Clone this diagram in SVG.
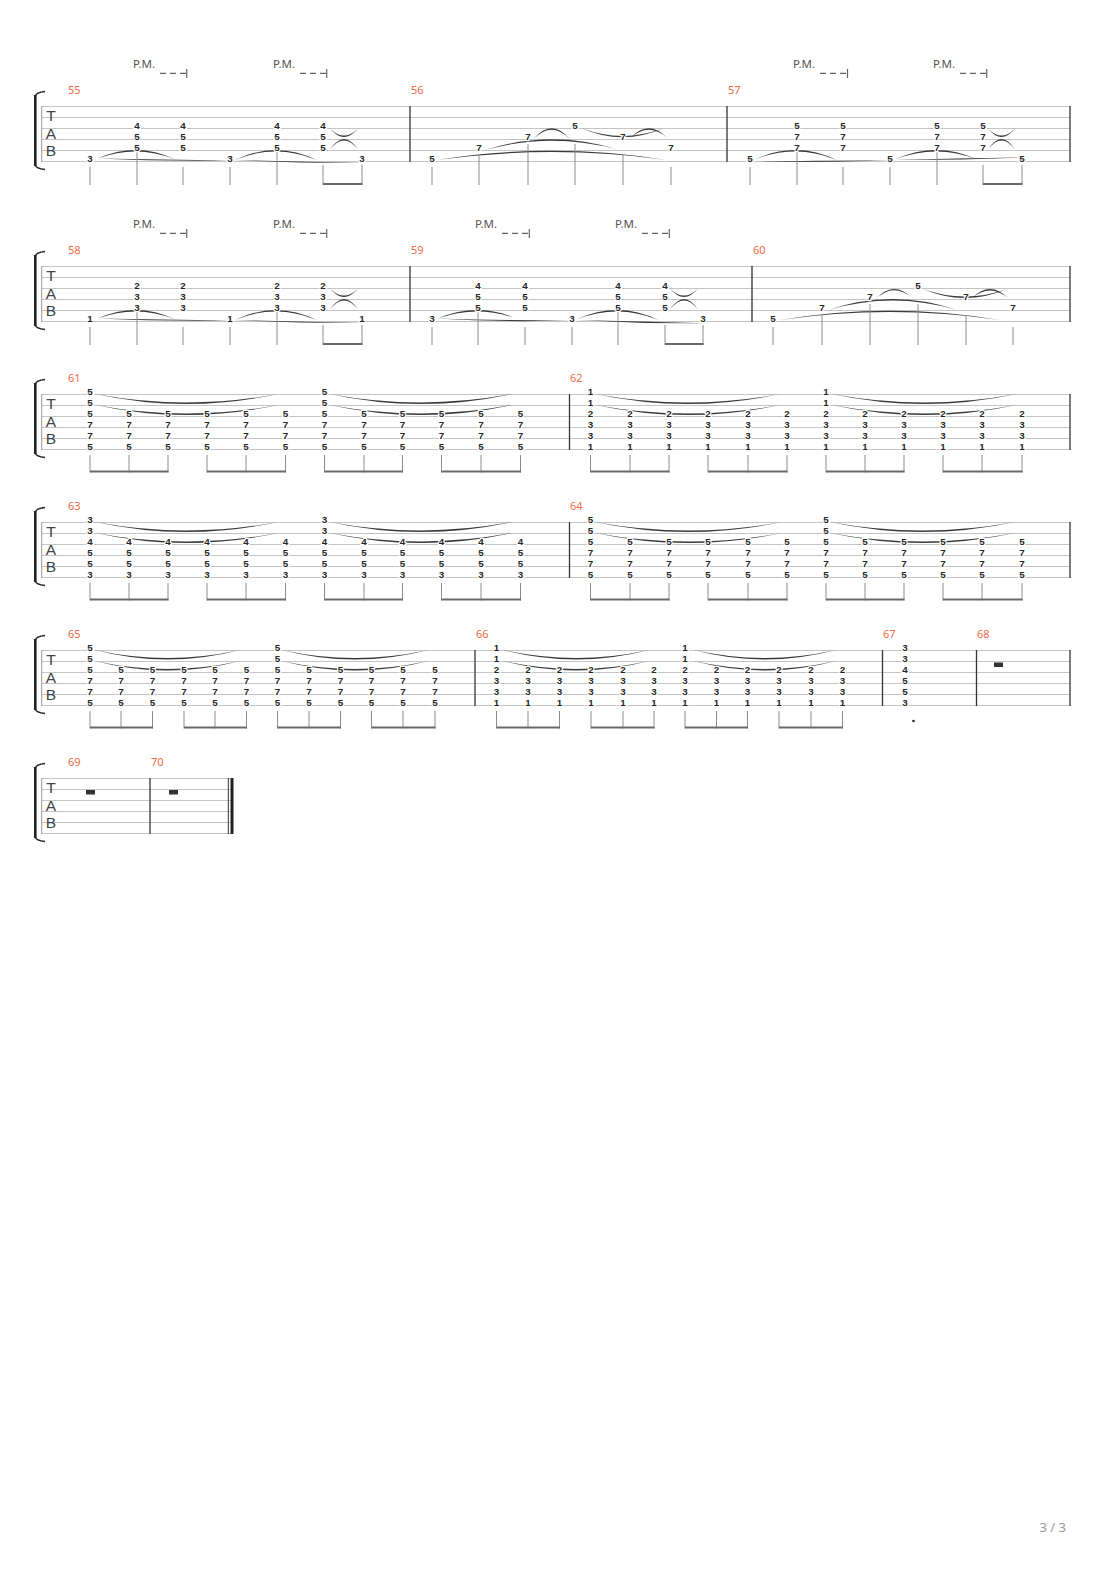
<svg xmlns="http://www.w3.org/2000/svg" width="1110" height="1570" viewBox="0 0 1110 1570">
<style>
.sl{stroke:#c4c4c4;stroke-width:1;fill:none}
.lf{stroke:#9a9a9a;stroke-width:1}
.bl{stroke:#333;stroke-width:1.3}
.d{font-family:"Liberation Sans",Arial,sans-serif;font-size:9.8px;font-weight:bold;fill:#262626;text-anchor:middle;stroke:#fff;stroke-width:2.5;stroke-linejoin:round;paint-order:stroke}
.mn{font-family:"Noto Sans",sans-serif;font-size:11px;fill:#f26a3f}
.pm{font-family:"Noto Sans",sans-serif;font-size:11.5px;fill:#555}
.pd{stroke:#666;stroke-width:1.2;stroke-dasharray:6 4;fill:none}
.pt{stroke:#666;stroke-width:1.2}
.st{stroke:#8c8c8c;stroke-width:1}
.bm{fill:#6a6a6a}
.tie{fill:#3a3a3a}
.tb{font-family:"Liberation Sans",Arial,sans-serif;font-size:15.5px;fill:#444;text-anchor:middle}
.br{fill:#222}
.hk{stroke:#222;stroke-width:1.3;fill:none}
.rest{fill:#333}
.ft{font-family:"Noto Sans",sans-serif;font-size:13px;fill:#999;text-anchor:end}
</style>

<g id="staves">
<g id="staff1">
<path class="sl" d="M41.7 106.5H1070M41.7 117.5H1070M41.7 128.5H1070M41.7 139.5H1070M41.7 150.5H1070M41.7 161.5H1070"/>
<line class="lf" x1="41.7" y1="106" x2="41.7" y2="162"/>
<rect class="br" x="34" y="95" width="2.6" height="71"/>
<path class="hk" d="M35.3 96Q36 92.5 45 91.5M35.3 165Q36 168.5 45 169.5"/>
<text class="tb" x="51" y="121.3">T</text><text class="tb" x="51" y="138.8">A</text><text class="tb" x="51" y="156.2">B</text>
<line class="bl" x1="410" y1="106" x2="410" y2="162"/><line class="bl" x1="727" y1="106" x2="727" y2="162"/><line class="bl" x1="1070" y1="106" x2="1070" y2="162"/>
<text class="mn" x="68" y="94.3">55</text><text class="mn" x="411" y="94.3">56</text><text class="mn" x="728" y="94.3">57</text>
</g>
<g id="staff2">
<path class="sl" d="M41.7 266.5H1070M41.7 277.5H1070M41.7 288.5H1070M41.7 299.5H1070M41.7 310.5H1070M41.7 321.5H1070"/>
<line class="lf" x1="41.7" y1="266" x2="41.7" y2="322"/>
<rect class="br" x="34" y="255" width="2.6" height="71"/>
<path class="hk" d="M35.3 256Q36 252.5 45 251.5M35.3 325Q36 328.5 45 329.5"/>
<text class="tb" x="51" y="281.3">T</text><text class="tb" x="51" y="298.8">A</text><text class="tb" x="51" y="316.2">B</text>
<line class="bl" x1="410" y1="266" x2="410" y2="322"/><line class="bl" x1="752" y1="266" x2="752" y2="322"/><line class="bl" x1="1070" y1="266" x2="1070" y2="322"/>
<text class="mn" x="68" y="254.3">58</text><text class="mn" x="411" y="254.3">59</text><text class="mn" x="753" y="254.3">60</text>
</g>
<g id="staff3">
<path class="sl" d="M41.7 394.5H1070M41.7 405.5H1070M41.7 416.5H1070M41.7 427.5H1070M41.7 438.5H1070M41.7 449.5H1070"/>
<line class="lf" x1="41.7" y1="394" x2="41.7" y2="450"/>
<rect class="br" x="34" y="383" width="2.6" height="71"/>
<path class="hk" d="M35.3 384Q36 380.5 45 379.5M35.3 453Q36 456.5 45 457.5"/>
<text class="tb" x="51" y="409.3">T</text><text class="tb" x="51" y="426.8">A</text><text class="tb" x="51" y="444.2">B</text>
<line class="bl" x1="569.5" y1="394" x2="569.5" y2="450"/><line class="bl" x1="1070" y1="394" x2="1070" y2="450"/>
<text class="mn" x="68" y="382.3">61</text><text class="mn" x="570" y="382.3">62</text>
</g>
<g id="staff4">
<path class="sl" d="M41.7 522.5H1070M41.7 533.5H1070M41.7 544.5H1070M41.7 555.5H1070M41.7 566.5H1070M41.7 577.5H1070"/>
<line class="lf" x1="41.7" y1="522" x2="41.7" y2="578"/>
<rect class="br" x="34" y="511" width="2.6" height="71"/>
<path class="hk" d="M35.3 512Q36 508.5 45 507.5M35.3 581Q36 584.5 45 585.5"/>
<text class="tb" x="51" y="537.3">T</text><text class="tb" x="51" y="554.8">A</text><text class="tb" x="51" y="572.2">B</text>
<line class="bl" x1="569.5" y1="522" x2="569.5" y2="578"/><line class="bl" x1="1070" y1="522" x2="1070" y2="578"/>
<text class="mn" x="68" y="510.3">63</text><text class="mn" x="570" y="510.3">64</text>
</g>
<g id="staff5">
<path class="sl" d="M41.7 650.5H1070M41.7 661.5H1070M41.7 672.5H1070M41.7 683.5H1070M41.7 694.5H1070M41.7 705.5H1070"/>
<line class="lf" x1="41.7" y1="650" x2="41.7" y2="706"/>
<rect class="br" x="34" y="639" width="2.6" height="71"/>
<path class="hk" d="M35.3 640Q36 636.5 45 635.5M35.3 709Q36 712.5 45 713.5"/>
<text class="tb" x="51" y="665.3">T</text><text class="tb" x="51" y="682.8">A</text><text class="tb" x="51" y="700.2">B</text>
<line class="bl" x1="475" y1="650" x2="475" y2="706"/><line class="bl" x1="882.5" y1="650" x2="882.5" y2="706"/><line class="bl" x1="976.5" y1="650" x2="976.5" y2="706"/><line class="bl" x1="1070" y1="650" x2="1070" y2="706"/>
<text class="mn" x="68" y="638.3">65</text><text class="mn" x="476" y="638.3">66</text><text class="mn" x="883" y="638.3">67</text><text class="mn" x="977" y="638.3">68</text>
</g>
<g id="staff6">
<path class="sl" d="M41.7 778.5H232M41.7 789.5H232M41.7 800.5H232M41.7 811.5H232M41.7 822.5H232M41.7 833.5H232"/>
<line class="lf" x1="41.7" y1="778" x2="41.7" y2="834"/>
<rect class="br" x="34" y="767" width="2.6" height="71"/>
<path class="hk" d="M35.3 768Q36 764.5 45 763.5M35.3 837Q36 840.5 45 841.5"/>
<text class="tb" x="51" y="793.3">T</text><text class="tb" x="51" y="810.8">A</text><text class="tb" x="51" y="828.2">B</text>
<line class="bl" x1="150" y1="778" x2="150" y2="834"/><line x1="228.3" y1="778" x2="228.3" y2="834" stroke="#333" stroke-width="1"/><rect x="230.5" y="778" width="3" height="56" fill="#222"/>
<text class="mn" x="68" y="766.3">69</text><text class="mn" x="151" y="766.3">70</text>
</g>
</g>

<g id="palm-mutes">
<text class="pm" x="133" y="68.3">P.M.</text><path class="pd" d="M160 73.3H186"/><path class="pt" d="M186.7 69V78"/>
<text class="pm" x="273" y="68.3">P.M.</text><path class="pd" d="M300 73.3H326"/><path class="pt" d="M326.7 69V78"/>
<text class="pm" x="793" y="68.3">P.M.</text><path class="pd" d="M820 73.3H846"/><path class="pt" d="M847.5 69V78"/>
<text class="pm" x="933" y="68.3">P.M.</text><path class="pd" d="M960 73.3H986"/><path class="pt" d="M986.7 69V78"/>
<text class="pm" x="133" y="228.3">P.M.</text><path class="pd" d="M160 233.3H186"/><path class="pt" d="M186.7 229V238"/>
<text class="pm" x="273" y="228.3">P.M.</text><path class="pd" d="M300 233.3H326"/><path class="pt" d="M326.7 229V238"/>
<text class="pm" x="475" y="228.3">P.M.</text><path class="pd" d="M502 233.3H528"/><path class="pt" d="M529.3 229V238"/>
<text class="pm" x="615" y="228.3">P.M.</text><path class="pd" d="M642 233.3H668"/><path class="pt" d="M669.3 229V238"/>
</g>

<g id="connectors">
<g id="ties">
<path class="tie" d="M98.3 158.3Q136.7 141.2 175 159.3Q136.7 144 98.3 158.3Z"/>
<path class="tie" d="M97 158.5Q163.5 161.5 230 160.5Q163.5 159.3 97 158.5Z"/>
<path class="tie" d="M233 160Q298 163.5 363 163Q298 161.3 233 160Z"/>
<path class="tie" d="M235 160Q276 140 316.7 160Q276 142.8 235 160Z"/>
<path class="tie" d="M330 128.5Q344 145.5 358 128.5Q344 142.7 330 128.5Z"/>
<path class="tie" d="M330 149.5Q344 128.5 358 149.5Q344 131.3 330 149.5Z"/>
<path class="tie" d="M436.7 160Q551.7 141.4 666.7 160Q551.7 144.2 436.7 160Z"/>
<path class="tie" d="M485 150Q551 129 616.7 149.3Q551 131.8 485 150Z"/>
<path class="tie" d="M533.3 139.3Q551.7 117.3 570 139.3Q551.7 120.1 533.3 139.3Z"/>
<path class="tie" d="M581.7 128.3Q622.5 146.3 663.3 128.3Q622.5 143.5 581.7 128.3Z"/>
<path class="tie" d="M630 138.3Q648 118.8 666.7 137.3Q648 121.6 630 138.3Z"/>
<path class="tie" d="M755 159.3Q796.7 140.4 836.7 160Q796.7 143.2 755 159.3Z"/>
<path class="tie" d="M753 162Q821 162.4 890 160.5Q821 160.2 753 162Z"/>
<path class="tie" d="M895 160Q958 160.3 1021.7 157.5Q958 158.1 895 160Z"/>
<path class="tie" d="M895 159.3Q936.7 140.7 976.7 159.3Q936.7 143.5 895 159.3Z"/>
<path class="tie" d="M988 128.5Q1001.5 145.5 1015 128.5Q1001.5 142.7 988 128.5Z"/>
<path class="tie" d="M988 149.5Q1001.5 128.5 1015 149.5Q1001.5 131.3 988 149.5Z"/>
<path class="tie" d="M98.3 318.3Q136.7 301.2 175 319.3Q136.7 304 98.3 318.3Z"/>
<path class="tie" d="M97 318.5Q163.5 321.5 230 320.5Q163.5 319.3 97 318.5Z"/>
<path class="tie" d="M233 320Q298 323.5 363 323Q298 321.3 233 320Z"/>
<path class="tie" d="M235 320Q276 300 316.7 320Q276 302.8 235 320Z"/>
<path class="tie" d="M330 288.5Q344 305.5 358 288.5Q344 302.7 330 288.5Z"/>
<path class="tie" d="M330 309.5Q344 288.5 358 309.5Q344 291.3 330 309.5Z"/>
<path class="tie" d="M438.3 318.3Q478.3 301.2 518.3 319.3Q478.3 304 438.3 318.3Z"/>
<path class="tie" d="M436.7 318.5Q504 322.6 571.7 320.3Q504 320.4 436.7 318.5Z"/>
<path class="tie" d="M575 320Q640 323.75 705 323.3Q640 321.5 575 320Z"/>
<path class="tie" d="M576.7 319.3Q618.3 300.4 658.3 320Q618.3 303.2 576.7 319.3Z"/>
<path class="tie" d="M670 288.5Q684 305.5 698 288.5Q684 302.7 670 288.5Z"/>
<path class="tie" d="M670 309.5Q684 288.5 698 309.5Q684 291.3 670 309.5Z"/>
<path class="tie" d="M780 320Q890 301.4 1000 320Q890 304.2 780 320Z"/>
<path class="tie" d="M828 310Q893 288 957 310Q893 290.8 828 310Z"/>
<path class="tie" d="M875 300Q893 279 912 298Q893 281.8 875 300Z"/>
<path class="tie" d="M923 289Q965 307 1007 289Q965 304.2 923 289Z"/>
<path class="tie" d="M972 298Q990 280 1008 298Q990 282.8 972 298Z"/>
<path class="tie" d="M95.4 394Q186.7 414 278 394Q186.7 411 95.4 394ZM95.4 405Q186.7 425 278 405Q186.7 422 95.4 405Z"/>
<path class="tie" d="M329.6 394Q420.8 414 512 394Q420.8 411 329.6 394ZM329.6 405Q420.8 425 512 405Q420.8 422 329.6 405Z"/>
<path class="tie" d="M595.6 394Q687.8 414 780 394Q687.8 411 595.6 394ZM595.6 405Q687.8 425 780 405Q687.8 422 595.6 405Z"/>
<path class="tie" d="M832 394Q924.2 414 1016.5 394Q924.2 411 832 394ZM832 405Q924.2 425 1016.5 405Q924.2 422 832 405Z"/>
<path class="tie" d="M95.4 522Q186.7 542 278 522Q186.7 539 95.4 522ZM95.4 533Q186.7 553 278 533Q186.7 550 95.4 533Z"/>
<path class="tie" d="M329.6 522Q420.8 542 512 522Q420.8 539 329.6 522ZM329.6 533Q420.8 553 512 533Q420.8 550 329.6 533Z"/>
<path class="tie" d="M595 522Q688.3 542 781.7 522Q688.3 539 595 522ZM595 533Q688.3 553 781.7 533Q688.3 550 595 533Z"/>
<path class="tie" d="M830 522Q922.5 542 1015 522Q922.5 539 830 522ZM830 533Q922.5 553 1015 533Q922.5 550 830 533Z"/>
<path class="tie" d="M95 650Q167.5 669 240 650Q167.5 666 95 650ZM95 661Q167.5 680 240 661Q167.5 677 95 661Z"/>
<path class="tie" d="M281.7 650Q355 669 428.3 650Q355 666 281.7 650ZM281.7 661Q355 680 428.3 661Q355 677 281.7 661Z"/>
<path class="tie" d="M503 650Q576 669 649 650Q576 666 503 650ZM503 661Q576 680 649 661Q576 677 503 661Z"/>
<path class="tie" d="M693.7 650Q764.7 669 835.8 650Q764.7 666 693.7 650ZM693.7 661Q764.7 680 835.8 661Q764.7 677 693.7 661Z"/>
</g>
<g id="stems">
<path class="st" d="M90 167V185M137 152V185M183 167V185M230 167V185M277 152V185M323 165V185M362 165V185"/>
<path class="st" d="M432 167V185M479 155V185M528 144V185M575 144V185M623 155V185M671 167V185"/>
<path class="st" d="M750 167V185M797 152V185M843 167V185M890 167V185M937 152V185M983 165V185M1022 165V185"/>
<path class="st" d="M90 327V345M137 312V345M183 327V345M230 327V345M277 312V345M323 325V345M362 325V345"/>
<path class="st" d="M432 327V345M478 312V345M525 327V345M572 327V345M618 312V345M665 325V345M703 325V345"/>
<path class="st" d="M773 327V345M822 315V345M870 304V345M918 304V345M966 315V345M1013 327V345"/>
<rect class="bm" x="323" y="183" width="39.5" height="2"/>
<rect class="bm" x="983" y="183" width="39.5" height="2"/>
<rect class="bm" x="323" y="343" width="39.5" height="2"/>
<rect class="bm" x="665" y="343" width="38.5" height="2"/>
<path class="st" d="M90 455V472.5M129 455V472.5M168 455V472.5M207 455V472.5M246 455V472.5M285.5 455V472.5M324.5 455V472.5M364 455V472.5M402.5 455V472.5M441.5 455V472.5M481 455V472.5M520.5 455V472.5"/>
<path class="st" d="M590.5 455V472.5M630 455V472.5M669 455V472.5M708 455V472.5M748 455V472.5M787 455V472.5M826 455V472.5M865 455V472.5M904 455V472.5M943 455V472.5M982 455V472.5M1022 455V472.5"/>
<rect class="bm" x="90" y="470.5" width="78.5" height="2"/><rect class="bm" x="207" y="470.5" width="79" height="2"/><rect class="bm" x="324.5" y="470.5" width="78.5" height="2"/><rect class="bm" x="441.5" y="470.5" width="79.5" height="2"/>
<rect class="bm" x="590.5" y="470.5" width="79" height="2"/><rect class="bm" x="708" y="470.5" width="79.5" height="2"/><rect class="bm" x="826" y="470.5" width="78.5" height="2"/><rect class="bm" x="943" y="470.5" width="79.5" height="2"/>
<path class="st" d="M90 583V600.5M129 583V600.5M168 583V600.5M207 583V600.5M246 583V600.5M285.5 583V600.5M324.5 583V600.5M364 583V600.5M402.5 583V600.5M441.5 583V600.5M481 583V600.5M520.5 583V600.5"/>
<path class="st" d="M590.5 583V600.5M630 583V600.5M669 583V600.5M708 583V600.5M748 583V600.5M787 583V600.5M826 583V600.5M865 583V600.5M904 583V600.5M943 583V600.5M982 583V600.5M1022 583V600.5"/>
<rect class="bm" x="90" y="598.5" width="78.5" height="2"/><rect class="bm" x="207" y="598.5" width="79" height="2"/><rect class="bm" x="324.5" y="598.5" width="78.5" height="2"/><rect class="bm" x="441.5" y="598.5" width="79.5" height="2"/>
<rect class="bm" x="590.5" y="598.5" width="79" height="2"/><rect class="bm" x="708" y="598.5" width="79.5" height="2"/><rect class="bm" x="826" y="598.5" width="78.5" height="2"/><rect class="bm" x="943" y="598.5" width="79.5" height="2"/>
<path class="st" d="M90 711V728.5M121 711V728.5M152.5 711V728.5M184 711V728.5M215 711V728.5M246.5 711V728.5M277.5 711V728.5M309 711V728.5M340.5 711V728.5M371.5 711V728.5M403 711V728.5M435 711V728.5"/>
<path class="st" d="M496.5 711V728.5M528 711V728.5M559.5 711V728.5M591 711V728.5M623 711V728.5M654 711V728.5M685 711V728.5M716.5 711V728.5M747.5 711V728.5M779 711V728.5M811 711V728.5M842.5 711V728.5"/>
<rect class="bm" x="90" y="726.5" width="63" height="2"/><rect class="bm" x="184" y="726.5" width="63" height="2"/><rect class="bm" x="277.5" y="726.5" width="63.5" height="2"/><rect class="bm" x="371.5" y="726.5" width="64" height="2"/>
<rect class="bm" x="496.5" y="726.5" width="63.5" height="2"/><rect class="bm" x="591" y="726.5" width="63.5" height="2"/><rect class="bm" x="685" y="726.5" width="63" height="2"/><rect class="bm" x="779" y="726.5" width="64" height="2"/>
</g>
</g>

<g id="m55" class="d" transform="translate(0,-0.7)">
<text x="90" y="162.7">3</text>
<text><tspan x="137" y="129.7">4</tspan><tspan x="137" y="140.7">5</tspan><tspan x="137" y="151.7">5</tspan></text>
<text><tspan x="183" y="129.7">4</tspan><tspan x="183" y="140.7">5</tspan><tspan x="183" y="151.7">5</tspan></text>
<text x="230" y="162.7">3</text>
<text><tspan x="277" y="129.7">4</tspan><tspan x="277" y="140.7">5</tspan><tspan x="277" y="151.7">5</tspan></text>
<text><tspan x="323" y="129.7">4</tspan><tspan x="323" y="140.7">5</tspan><tspan x="323" y="151.7">5</tspan></text>
<text x="362" y="162.7">3</text>
</g>
<g id="m56" class="d" transform="translate(0,-0.7)">
<text x="432" y="162.7">5</text><text x="479" y="151.7">7</text><text x="528" y="140.7">7</text><text x="575" y="129.7">5</text><text x="623" y="140.7">7</text><text x="671" y="151.7">7</text>
</g>
<g id="m57" class="d" transform="translate(0,-0.7)">
<text x="750" y="162.7">5</text>
<text><tspan x="797" y="129.7">5</tspan><tspan x="797" y="140.7">7</tspan><tspan x="797" y="151.7">7</tspan></text>
<text><tspan x="843" y="129.7">5</tspan><tspan x="843" y="140.7">7</tspan><tspan x="843" y="151.7">7</tspan></text>
<text x="890" y="162.7">5</text>
<text><tspan x="937" y="129.7">5</tspan><tspan x="937" y="140.7">7</tspan><tspan x="937" y="151.7">7</tspan></text>
<text><tspan x="983" y="129.7">5</tspan><tspan x="983" y="140.7">7</tspan><tspan x="983" y="151.7">7</tspan></text>
<text x="1022" y="162.7">5</text>
</g>
<g id="m58" class="d" transform="translate(0,-0.7)">
<text x="90" y="322.7">1</text>
<text><tspan x="137" y="289.7">2</tspan><tspan x="137" y="300.7">3</tspan><tspan x="137" y="311.7">3</tspan></text>
<text><tspan x="183" y="289.7">2</tspan><tspan x="183" y="300.7">3</tspan><tspan x="183" y="311.7">3</tspan></text>
<text x="230" y="322.7">1</text>
<text><tspan x="277" y="289.7">2</tspan><tspan x="277" y="300.7">3</tspan><tspan x="277" y="311.7">3</tspan></text>
<text><tspan x="323" y="289.7">2</tspan><tspan x="323" y="300.7">3</tspan><tspan x="323" y="311.7">3</tspan></text>
<text x="362" y="322.7">1</text>
</g>
<g id="m59" class="d" transform="translate(0,-0.7)">
<text x="432" y="322.7">3</text>
<text><tspan x="478" y="289.7">4</tspan><tspan x="478" y="300.7">5</tspan><tspan x="478" y="311.7">5</tspan></text>
<text><tspan x="525" y="289.7">4</tspan><tspan x="525" y="300.7">5</tspan><tspan x="525" y="311.7">5</tspan></text>
<text x="572" y="322.7">3</text>
<text><tspan x="618" y="289.7">4</tspan><tspan x="618" y="300.7">5</tspan><tspan x="618" y="311.7">5</tspan></text>
<text><tspan x="665" y="289.7">4</tspan><tspan x="665" y="300.7">5</tspan><tspan x="665" y="311.7">5</tspan></text>
<text x="703" y="322.7">3</text>
</g>
<g id="m60" class="d" transform="translate(0,-0.7)">
<text x="773" y="322.7">5</text><text x="822" y="311.7">7</text><text x="870" y="300.7">7</text><text x="918" y="289.7">5</text><text x="966" y="300.7">7</text><text x="1013" y="311.7">7</text>
</g>
<g id="m61" class="d" transform="translate(0,-0.7)">
<text><tspan x="90" y="395.7">5</tspan><tspan x="90" y="406.7">5</tspan><tspan x="90" y="417.7">5</tspan><tspan x="90" y="428.7">7</tspan><tspan x="90" y="439.7">7</tspan><tspan x="90" y="450.7">5</tspan></text>
<text><tspan x="129" y="417.7">5</tspan><tspan x="129" y="428.7">7</tspan><tspan x="129" y="439.7">7</tspan><tspan x="129" y="450.7">5</tspan></text>
<text><tspan x="168" y="417.7">5</tspan><tspan x="168" y="428.7">7</tspan><tspan x="168" y="439.7">7</tspan><tspan x="168" y="450.7">5</tspan></text>
<text><tspan x="207" y="417.7">5</tspan><tspan x="207" y="428.7">7</tspan><tspan x="207" y="439.7">7</tspan><tspan x="207" y="450.7">5</tspan></text>
<text><tspan x="246" y="417.7">5</tspan><tspan x="246" y="428.7">7</tspan><tspan x="246" y="439.7">7</tspan><tspan x="246" y="450.7">5</tspan></text>
<text><tspan x="285.5" y="417.7">5</tspan><tspan x="285.5" y="428.7">7</tspan><tspan x="285.5" y="439.7">7</tspan><tspan x="285.5" y="450.7">5</tspan></text>
<text><tspan x="324.5" y="395.7">5</tspan><tspan x="324.5" y="406.7">5</tspan><tspan x="324.5" y="417.7">5</tspan><tspan x="324.5" y="428.7">7</tspan><tspan x="324.5" y="439.7">7</tspan><tspan x="324.5" y="450.7">5</tspan></text>
<text><tspan x="364" y="417.7">5</tspan><tspan x="364" y="428.7">7</tspan><tspan x="364" y="439.7">7</tspan><tspan x="364" y="450.7">5</tspan></text>
<text><tspan x="402.5" y="417.7">5</tspan><tspan x="402.5" y="428.7">7</tspan><tspan x="402.5" y="439.7">7</tspan><tspan x="402.5" y="450.7">5</tspan></text>
<text><tspan x="441.5" y="417.7">5</tspan><tspan x="441.5" y="428.7">7</tspan><tspan x="441.5" y="439.7">7</tspan><tspan x="441.5" y="450.7">5</tspan></text>
<text><tspan x="481" y="417.7">5</tspan><tspan x="481" y="428.7">7</tspan><tspan x="481" y="439.7">7</tspan><tspan x="481" y="450.7">5</tspan></text>
<text><tspan x="520.5" y="417.7">5</tspan><tspan x="520.5" y="428.7">7</tspan><tspan x="520.5" y="439.7">7</tspan><tspan x="520.5" y="450.7">5</tspan></text>
</g>
<g id="m62" class="d" transform="translate(0,-0.7)">
<text><tspan x="590.5" y="395.7">1</tspan><tspan x="590.5" y="406.7">1</tspan><tspan x="590.5" y="417.7">2</tspan><tspan x="590.5" y="428.7">3</tspan><tspan x="590.5" y="439.7">3</tspan><tspan x="590.5" y="450.7">1</tspan></text>
<text><tspan x="630" y="417.7">2</tspan><tspan x="630" y="428.7">3</tspan><tspan x="630" y="439.7">3</tspan><tspan x="630" y="450.7">1</tspan></text>
<text><tspan x="669" y="417.7">2</tspan><tspan x="669" y="428.7">3</tspan><tspan x="669" y="439.7">3</tspan><tspan x="669" y="450.7">1</tspan></text>
<text><tspan x="708" y="417.7">2</tspan><tspan x="708" y="428.7">3</tspan><tspan x="708" y="439.7">3</tspan><tspan x="708" y="450.7">1</tspan></text>
<text><tspan x="748" y="417.7">2</tspan><tspan x="748" y="428.7">3</tspan><tspan x="748" y="439.7">3</tspan><tspan x="748" y="450.7">1</tspan></text>
<text><tspan x="787" y="417.7">2</tspan><tspan x="787" y="428.7">3</tspan><tspan x="787" y="439.7">3</tspan><tspan x="787" y="450.7">1</tspan></text>
<text><tspan x="826" y="395.7">1</tspan><tspan x="826" y="406.7">1</tspan><tspan x="826" y="417.7">2</tspan><tspan x="826" y="428.7">3</tspan><tspan x="826" y="439.7">3</tspan><tspan x="826" y="450.7">1</tspan></text>
<text><tspan x="865" y="417.7">2</tspan><tspan x="865" y="428.7">3</tspan><tspan x="865" y="439.7">3</tspan><tspan x="865" y="450.7">1</tspan></text>
<text><tspan x="904" y="417.7">2</tspan><tspan x="904" y="428.7">3</tspan><tspan x="904" y="439.7">3</tspan><tspan x="904" y="450.7">1</tspan></text>
<text><tspan x="943" y="417.7">2</tspan><tspan x="943" y="428.7">3</tspan><tspan x="943" y="439.7">3</tspan><tspan x="943" y="450.7">1</tspan></text>
<text><tspan x="982" y="417.7">2</tspan><tspan x="982" y="428.7">3</tspan><tspan x="982" y="439.7">3</tspan><tspan x="982" y="450.7">1</tspan></text>
<text><tspan x="1022" y="417.7">2</tspan><tspan x="1022" y="428.7">3</tspan><tspan x="1022" y="439.7">3</tspan><tspan x="1022" y="450.7">1</tspan></text>
</g>
<g id="m63" class="d" transform="translate(0,-0.7)">
<text><tspan x="90" y="523.7">3</tspan><tspan x="90" y="534.7">3</tspan><tspan x="90" y="545.7">4</tspan><tspan x="90" y="556.7">5</tspan><tspan x="90" y="567.7">5</tspan><tspan x="90" y="578.7">3</tspan></text>
<text><tspan x="129" y="545.7">4</tspan><tspan x="129" y="556.7">5</tspan><tspan x="129" y="567.7">5</tspan><tspan x="129" y="578.7">3</tspan></text>
<text><tspan x="168" y="545.7">4</tspan><tspan x="168" y="556.7">5</tspan><tspan x="168" y="567.7">5</tspan><tspan x="168" y="578.7">3</tspan></text>
<text><tspan x="207" y="545.7">4</tspan><tspan x="207" y="556.7">5</tspan><tspan x="207" y="567.7">5</tspan><tspan x="207" y="578.7">3</tspan></text>
<text><tspan x="246" y="545.7">4</tspan><tspan x="246" y="556.7">5</tspan><tspan x="246" y="567.7">5</tspan><tspan x="246" y="578.7">3</tspan></text>
<text><tspan x="285.5" y="545.7">4</tspan><tspan x="285.5" y="556.7">5</tspan><tspan x="285.5" y="567.7">5</tspan><tspan x="285.5" y="578.7">3</tspan></text>
<text><tspan x="324.5" y="523.7">3</tspan><tspan x="324.5" y="534.7">3</tspan><tspan x="324.5" y="545.7">4</tspan><tspan x="324.5" y="556.7">5</tspan><tspan x="324.5" y="567.7">5</tspan><tspan x="324.5" y="578.7">3</tspan></text>
<text><tspan x="364" y="545.7">4</tspan><tspan x="364" y="556.7">5</tspan><tspan x="364" y="567.7">5</tspan><tspan x="364" y="578.7">3</tspan></text>
<text><tspan x="402.5" y="545.7">4</tspan><tspan x="402.5" y="556.7">5</tspan><tspan x="402.5" y="567.7">5</tspan><tspan x="402.5" y="578.7">3</tspan></text>
<text><tspan x="441.5" y="545.7">4</tspan><tspan x="441.5" y="556.7">5</tspan><tspan x="441.5" y="567.7">5</tspan><tspan x="441.5" y="578.7">3</tspan></text>
<text><tspan x="481" y="545.7">4</tspan><tspan x="481" y="556.7">5</tspan><tspan x="481" y="567.7">5</tspan><tspan x="481" y="578.7">3</tspan></text>
<text><tspan x="520.5" y="545.7">4</tspan><tspan x="520.5" y="556.7">5</tspan><tspan x="520.5" y="567.7">5</tspan><tspan x="520.5" y="578.7">3</tspan></text>
</g>
<g id="m64" class="d" transform="translate(0,-0.7)">
<text><tspan x="590.5" y="523.7">5</tspan><tspan x="590.5" y="534.7">5</tspan><tspan x="590.5" y="545.7">5</tspan><tspan x="590.5" y="556.7">7</tspan><tspan x="590.5" y="567.7">7</tspan><tspan x="590.5" y="578.7">5</tspan></text>
<text><tspan x="630" y="545.7">5</tspan><tspan x="630" y="556.7">7</tspan><tspan x="630" y="567.7">7</tspan><tspan x="630" y="578.7">5</tspan></text>
<text><tspan x="669" y="545.7">5</tspan><tspan x="669" y="556.7">7</tspan><tspan x="669" y="567.7">7</tspan><tspan x="669" y="578.7">5</tspan></text>
<text><tspan x="708" y="545.7">5</tspan><tspan x="708" y="556.7">7</tspan><tspan x="708" y="567.7">7</tspan><tspan x="708" y="578.7">5</tspan></text>
<text><tspan x="748" y="545.7">5</tspan><tspan x="748" y="556.7">7</tspan><tspan x="748" y="567.7">7</tspan><tspan x="748" y="578.7">5</tspan></text>
<text><tspan x="787" y="545.7">5</tspan><tspan x="787" y="556.7">7</tspan><tspan x="787" y="567.7">7</tspan><tspan x="787" y="578.7">5</tspan></text>
<text><tspan x="826" y="523.7">5</tspan><tspan x="826" y="534.7">5</tspan><tspan x="826" y="545.7">5</tspan><tspan x="826" y="556.7">7</tspan><tspan x="826" y="567.7">7</tspan><tspan x="826" y="578.7">5</tspan></text>
<text><tspan x="865" y="545.7">5</tspan><tspan x="865" y="556.7">7</tspan><tspan x="865" y="567.7">7</tspan><tspan x="865" y="578.7">5</tspan></text>
<text><tspan x="904" y="545.7">5</tspan><tspan x="904" y="556.7">7</tspan><tspan x="904" y="567.7">7</tspan><tspan x="904" y="578.7">5</tspan></text>
<text><tspan x="943" y="545.7">5</tspan><tspan x="943" y="556.7">7</tspan><tspan x="943" y="567.7">7</tspan><tspan x="943" y="578.7">5</tspan></text>
<text><tspan x="982" y="545.7">5</tspan><tspan x="982" y="556.7">7</tspan><tspan x="982" y="567.7">7</tspan><tspan x="982" y="578.7">5</tspan></text>
<text><tspan x="1022" y="545.7">5</tspan><tspan x="1022" y="556.7">7</tspan><tspan x="1022" y="567.7">7</tspan><tspan x="1022" y="578.7">5</tspan></text>
</g>
<g id="m65" class="d" transform="translate(0,-0.7)">
<text><tspan x="90" y="651.7">5</tspan><tspan x="90" y="662.7">5</tspan><tspan x="90" y="673.7">5</tspan><tspan x="90" y="684.7">7</tspan><tspan x="90" y="695.7">7</tspan><tspan x="90" y="706.7">5</tspan></text>
<text><tspan x="121" y="673.7">5</tspan><tspan x="121" y="684.7">7</tspan><tspan x="121" y="695.7">7</tspan><tspan x="121" y="706.7">5</tspan></text>
<text><tspan x="152.5" y="673.7">5</tspan><tspan x="152.5" y="684.7">7</tspan><tspan x="152.5" y="695.7">7</tspan><tspan x="152.5" y="706.7">5</tspan></text>
<text><tspan x="184" y="673.7">5</tspan><tspan x="184" y="684.7">7</tspan><tspan x="184" y="695.7">7</tspan><tspan x="184" y="706.7">5</tspan></text>
<text><tspan x="215" y="673.7">5</tspan><tspan x="215" y="684.7">7</tspan><tspan x="215" y="695.7">7</tspan><tspan x="215" y="706.7">5</tspan></text>
<text><tspan x="246.5" y="673.7">5</tspan><tspan x="246.5" y="684.7">7</tspan><tspan x="246.5" y="695.7">7</tspan><tspan x="246.5" y="706.7">5</tspan></text>
<text><tspan x="277.5" y="651.7">5</tspan><tspan x="277.5" y="662.7">5</tspan><tspan x="277.5" y="673.7">5</tspan><tspan x="277.5" y="684.7">7</tspan><tspan x="277.5" y="695.7">7</tspan><tspan x="277.5" y="706.7">5</tspan></text>
<text><tspan x="309" y="673.7">5</tspan><tspan x="309" y="684.7">7</tspan><tspan x="309" y="695.7">7</tspan><tspan x="309" y="706.7">5</tspan></text>
<text><tspan x="340.5" y="673.7">5</tspan><tspan x="340.5" y="684.7">7</tspan><tspan x="340.5" y="695.7">7</tspan><tspan x="340.5" y="706.7">5</tspan></text>
<text><tspan x="371.5" y="673.7">5</tspan><tspan x="371.5" y="684.7">7</tspan><tspan x="371.5" y="695.7">7</tspan><tspan x="371.5" y="706.7">5</tspan></text>
<text><tspan x="403" y="673.7">5</tspan><tspan x="403" y="684.7">7</tspan><tspan x="403" y="695.7">7</tspan><tspan x="403" y="706.7">5</tspan></text>
<text><tspan x="435" y="673.7">5</tspan><tspan x="435" y="684.7">7</tspan><tspan x="435" y="695.7">7</tspan><tspan x="435" y="706.7">5</tspan></text>
</g>
<g id="m66" class="d" transform="translate(0,-0.7)">
<text><tspan x="496.5" y="651.7">1</tspan><tspan x="496.5" y="662.7">1</tspan><tspan x="496.5" y="673.7">2</tspan><tspan x="496.5" y="684.7">3</tspan><tspan x="496.5" y="695.7">3</tspan><tspan x="496.5" y="706.7">1</tspan></text>
<text><tspan x="528" y="673.7">2</tspan><tspan x="528" y="684.7">3</tspan><tspan x="528" y="695.7">3</tspan><tspan x="528" y="706.7">1</tspan></text>
<text><tspan x="559.5" y="673.7">2</tspan><tspan x="559.5" y="684.7">3</tspan><tspan x="559.5" y="695.7">3</tspan><tspan x="559.5" y="706.7">1</tspan></text>
<text><tspan x="591" y="673.7">2</tspan><tspan x="591" y="684.7">3</tspan><tspan x="591" y="695.7">3</tspan><tspan x="591" y="706.7">1</tspan></text>
<text><tspan x="623" y="673.7">2</tspan><tspan x="623" y="684.7">3</tspan><tspan x="623" y="695.7">3</tspan><tspan x="623" y="706.7">1</tspan></text>
<text><tspan x="654" y="673.7">2</tspan><tspan x="654" y="684.7">3</tspan><tspan x="654" y="695.7">3</tspan><tspan x="654" y="706.7">1</tspan></text>
<text><tspan x="685" y="651.7">1</tspan><tspan x="685" y="662.7">1</tspan><tspan x="685" y="673.7">2</tspan><tspan x="685" y="684.7">3</tspan><tspan x="685" y="695.7">3</tspan><tspan x="685" y="706.7">1</tspan></text>
<text><tspan x="716.5" y="673.7">2</tspan><tspan x="716.5" y="684.7">3</tspan><tspan x="716.5" y="695.7">3</tspan><tspan x="716.5" y="706.7">1</tspan></text>
<text><tspan x="747.5" y="673.7">2</tspan><tspan x="747.5" y="684.7">3</tspan><tspan x="747.5" y="695.7">3</tspan><tspan x="747.5" y="706.7">1</tspan></text>
<text><tspan x="779" y="673.7">2</tspan><tspan x="779" y="684.7">3</tspan><tspan x="779" y="695.7">3</tspan><tspan x="779" y="706.7">1</tspan></text>
<text><tspan x="811" y="673.7">2</tspan><tspan x="811" y="684.7">3</tspan><tspan x="811" y="695.7">3</tspan><tspan x="811" y="706.7">1</tspan></text>
<text><tspan x="842.5" y="673.7">2</tspan><tspan x="842.5" y="684.7">3</tspan><tspan x="842.5" y="695.7">3</tspan><tspan x="842.5" y="706.7">1</tspan></text>
</g>
<g id="m67" class="d" transform="translate(0,-0.7)">
<text><tspan x="905" y="651.7">3</tspan><tspan x="905" y="662.7">3</tspan><tspan x="905" y="673.7">4</tspan><tspan x="905" y="684.7">5</tspan><tspan x="905" y="695.7">5</tspan><tspan x="905" y="706.7">3</tspan></text>
<circle cx="913.5" cy="721.7" r="1.3" fill="#222" stroke="none"/>
</g>
<g id="m68"><rect class="rest" x="994" y="662.5" width="9" height="4.5"/></g>
<g id="m69"><rect class="rest" x="86" y="790" width="9" height="4.5"/></g>
<g id="m70"><rect class="rest" x="169" y="790" width="9" height="4.5"/></g>

<text class="ft" x="1066" y="1532">3 / 3</text>
</svg>
